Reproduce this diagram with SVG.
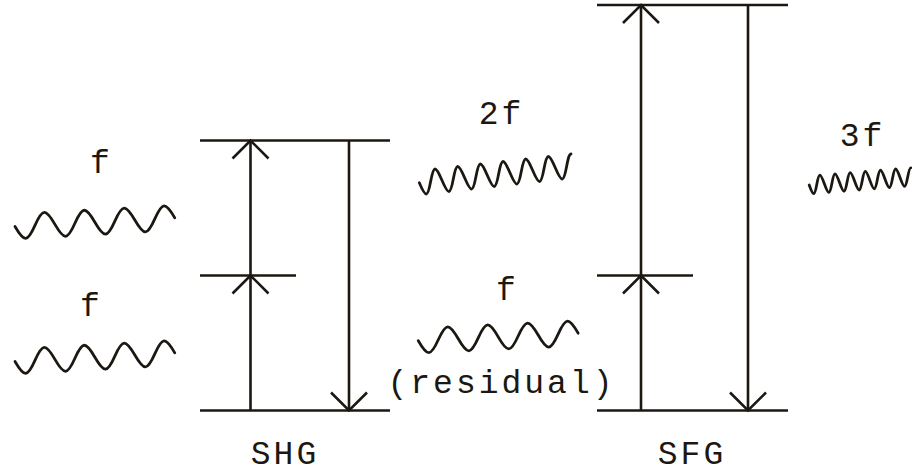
<svg xmlns="http://www.w3.org/2000/svg" xmlns:xlink="http://www.w3.org/1999/xlink" width="913" height="475" viewBox="0 0 913 475">
<style>
.lvl{stroke:#1c1811;stroke-width:2.6;fill:none}
.arr{stroke:#1c1811;stroke-width:2.6;fill:none;marker-end:url(#head)}
.wave{stroke:#1c1811;stroke-width:2.8;fill:none;stroke-linecap:round;stroke-linejoin:round}
.lbl{font-family:"Liberation Mono","DejaVu Sans Mono",monospace;font-size:33px;letter-spacing:3px;fill:#1c1811;text-anchor:middle}
</style>
<defs>
<marker id="head" viewBox="-20 -20 40 40" markerWidth="40" markerHeight="40" refX="0" refY="0" orient="auto" markerUnits="userSpaceOnUse" overflow="visible">
<path d="M-18,-18 L0,0 L-18,18" fill="none" stroke="#1c1811" stroke-width="2.6" stroke-linejoin="miter"/>
</marker>
<path id="wf" d="M0,0 c8.49,16.67 11.51,16.67 20,0 s11.51,-16.67 20,0 s11.51,16.67 20,0 s11.51,-16.67 20,0 s11.51,16.67 20,0 s11.51,-16.67 20,0 s11.51,16.67 20,0 s11.51,-16.67 20,0"/>
</defs>
<rect width="913" height="475" fill="#ffffff"/>

<g id="shg">
<line class="lvl" x1="200" y1="140.5" x2="390" y2="140.5"/>
<line class="lvl" x1="200" y1="275.5" x2="296" y2="275.5"/>
<line class="lvl" x1="200" y1="410.5" x2="390" y2="410.5"/>
<text class="lbl" x="285" y="464">SHG</text>
</g>

<g id="sfg">
<line class="lvl" x1="597" y1="5" x2="788" y2="5"/>
<line class="lvl" x1="597" y1="275.5" x2="693" y2="275.5"/>
<line class="lvl" x1="597" y1="410.5" x2="788" y2="410.5"/>
<text class="lbl" x="692" y="464">SFG</text>
</g>

<g id="input-f1">
<text class="lbl" x="101.5" y="173">f</text>
<use href="#wf" class="wave" transform="translate(15,226.5) rotate(-3.1)"/>
</g>

<g id="input-f2">
<text class="lbl" x="91.5" y="316">f</text>
<use href="#wf" class="wave" transform="translate(15,361.5) rotate(-3.1)"/>
</g>

<g id="output-2f">
<text class="lbl" x="501.5" y="124">2f</text>
<path class="wave" transform="translate(419.3,182.8) rotate(-6.3)" d="M0,0 c4.84,16 6.56,16 11.4,0 s6.56,-16 11.4,0 s6.56,16 11.4,0 s6.56,-16 11.4,0 s6.56,16 11.4,0 s6.56,-16 11.4,0 s6.56,16 11.4,0 s6.56,-16 11.4,0 s6.56,16 11.4,0 s6.56,-16 11.4,0 s6.56,16 11.4,0 s6.56,-16 11.4,0 s6.56,16 11.4,0 c1.86,-6.14 3.64,-12 5.7,-12"/>
</g>

<g id="residual-f">
<text class="lbl" x="507.5" y="300">f</text>
<use href="#wf" class="wave" transform="translate(418.3,340.7) rotate(-2.7)"/>
<text class="lbl" x="501.5" y="393">(residual)</text>
</g>

<g id="output-3f">
<text class="lbl" x="862.5" y="146">3f</text>
<path class="wave" transform="translate(809.2,185) rotate(-4.6)" d="M0,0 c3.23,12 4.37,12 7.6,0 s4.37,-12 7.6,0 s4.37,12 7.6,0 s4.37,-12 7.6,0 s4.37,12 7.6,0 s4.37,-12 7.6,0 s4.37,12 7.6,0 s4.37,-12 7.6,0 s4.37,12 7.6,0 s4.37,-12 7.6,0 s4.37,12 7.6,0 s4.37,-12 7.6,0 s4.37,12 7.6,0 c1.24,-4.61 2.42,-9 3.8,-9"/>
</g>

<g id="connectors">
<line class="arr" x1="250.5" y1="410.5" x2="250.5" y2="275.5"/>
<line class="arr" x1="250.5" y1="275.5" x2="250.5" y2="140.5"/>
<line class="arr" x1="349" y1="140.5" x2="349" y2="410.5"/>
<line class="arr" x1="641" y1="410.5" x2="641" y2="275.5"/>
<line class="arr" x1="641" y1="275.5" x2="641" y2="5"/>
<line class="arr" x1="748" y1="5" x2="748" y2="410.5"/>
</g>
</svg>
